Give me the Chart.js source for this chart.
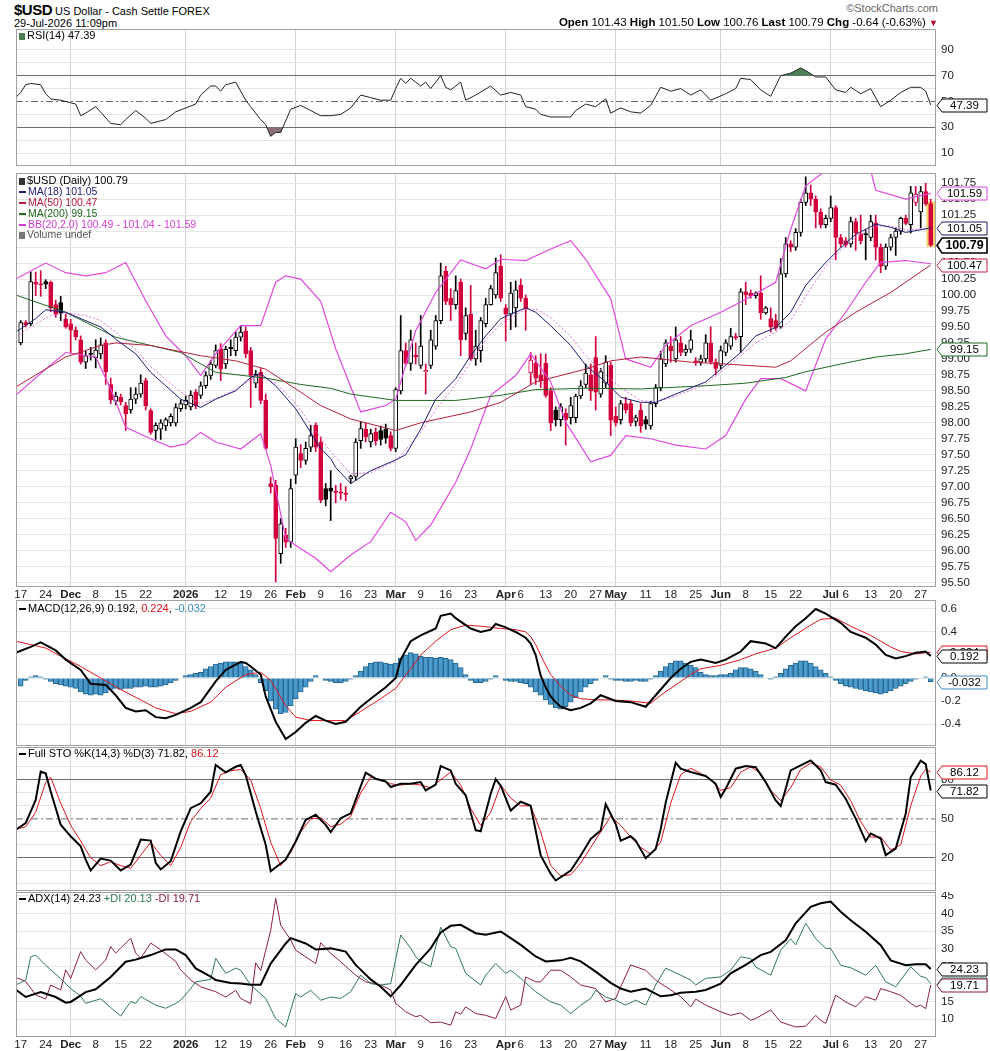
<!DOCTYPE html>
<html>
<head>
<meta charset="utf-8">
<script src="https://cdn.jsdelivr.net/npm/chart.js@4.4.1/dist/chart.umd.min.js"></script>
<style>
body { margin: 0; background: #fff; font-family: 'Liberation Sans', Arial, sans-serif; color: #000; }
#wrap { position: relative; width: 990px; height: 1051px; overflow: hidden; background: #fff; }
canvas { position: absolute; left: 0; }
.t { position: absolute; white-space: nowrap; font-size: 10.5px; line-height: 11px; }
.sw { display: inline-block; width: 7px; height: 2px; margin-right: 2px; vertical-align: middle; }
</style>
</head>
<body>
<div id="wrap">
  <canvas id="cRsi" width="990" height="137" style="top:29px"></canvas>
  <canvas id="cPx" width="990" height="432" style="top:173px"></canvas>
  <canvas id="cMacd" width="990" height="146" style="top:600px"></canvas>
  <canvas id="cSto" width="990" height="144" style="top:747px"></canvas>
  <canvas id="cAdx" width="990" height="159" style="top:892px"></canvas>

  <div class="t" style="left:14px;top:3px;font-size:11px;line-height:14px"><b style="font-size:15px;letter-spacing:-0.5px">$USD</b> US Dollar - Cash Settle FOREX</div>
  <div class="t" style="left:14px;top:17px;font-size:11px;line-height:12px">29-Jul-2026 11:09pm</div>
  <div class="t" style="right:52px;top:2px;font-size:11px;line-height:12px;color:#666">&copy;StockCharts.com</div>
  <div class="t" style="right:52px;top:16px;font-size:11.5px;line-height:13px"><b>Open</b> 101.43 <b>High</b> 101.50 <b>Low</b> 100.76 <b>Last</b> 100.79 <b>Chg</b> -0.64 (-0.63%) <span style="color:#b0002a;font-size:9px">&#9660;</span></div>

  <div class="t" style="left:19px;top:30px;font-size:11px"><span class="sw" style="background:#4d7d55;width:6px;height:7px"></span>RSI(14) 47.39</div>

  <div class="t" style="left:19px;top:175px;font-size:11px"><span class="sw" style="background:#333;width:6px;height:7px"></span>$USD (Daily) 100.79</div>
  <div class="t" style="left:19px;top:186px;color:#1c1c7a"><span class="sw" style="background:#1c1c7a"></span>MA(18) 101.05</div>
  <div class="t" style="left:19px;top:197px;color:#b3203c"><span class="sw" style="background:#b3203c"></span>MA(50) 100.47</div>
  <div class="t" style="left:19px;top:208px;color:#1f6a1f"><span class="sw" style="background:#1f6a1f"></span>MA(200) 99.15</div>
  <div class="t" style="left:19px;top:219px;color:#d63ad6"><span class="sw" style="background:#d63ad6"></span>BB(20,2.0) 100.49 - 101.04 - 101.59</div>
  <div class="t" style="left:19px;top:229px;color:#555"><span class="sw" style="background:#777;width:6px;height:7px"></span>Volume undef</div>

  <div class="t" style="left:19px;top:603px;font-size:11px"><span class="sw" style="background:#000"></span>MACD(12,26,9) 0.192, <span style="color:#e0141e">0.224</span>, <span style="color:#3a8fc0">-0.032</span></div>
  <div class="t" style="left:19px;top:748px;font-size:11px"><span class="sw" style="background:#000"></span>Full STO %K(14,3) %D(3) 71.82, <span style="color:#e0141e">86.12</span></div>
  <div class="t" style="left:19px;top:893px;font-size:11px"><span class="sw" style="background:#000"></span>ADX(14) 24.23 <span style="color:#2d7a4f">+DI 20.13</span> <span style="color:#8c1c4a">-DI 19.71</span></div>
</div>

<script>
// ---- axis labels ----
var tickIdx = [0,5,10,15,20,25,33,40,45,50,55,60,65,70,75,80,85,90,97,100,105,110,115,119,125,130,135,140,145,150,155,162,165,170,175,180];
var tickText = ['17','24','Dec','8','15','22','2026','12','19','26','Feb','9','16','23','Mar','9','16','23','Apr','6','13','20','27','May','11','18','25','Jun','8','15','22','Jul','6','13','20','27'];
var monthIdx = [10,33,55,75,97,119,140,162];

var priceTicks = [95.5,95.75,96,96.25,96.5,96.75,97,97.25,97.5,97.75,98,98.25,98.5,98.75,99,99.25,99.5,99.75,100,100.25,100.5,100.75,101,101.25,101.5,101.75];
var rsiTicks = [10,20,30,40,50,60,70,80,90];
var rsiShown = [10,30,50,70,90];
var macdTicks = [-0.4,-0.2,0,0.2,0.4,0.6];
var stoTicks = [0,10,20,30,40,50,60,70,80,90,100];
var stoShown = [20,50,80];
var adxTicks = [10,15,20,25,30,35,40,45];

// ---- daily candles, Nov 17 2025 .. Jul 29 2026 ----
var openPx = [99.25,99.57,99.55,100.20,100.17,100.21,100.20,99.85,99.88,99.62,
99.55,99.45,99.30,98.95,99.08,99.02,99.08,99.25,98.60,98.34,
98.40,98.27,98.20,98.37,98.45,98.66,98.19,97.88,97.90,97.95,
98.00,98.00,98.22,98.28,98.25,98.48,98.43,98.58,98.74,98.90,
99.16,98.92,99.18,99.13,99.34,99.43,99.13,98.62,98.79,98.35,
97.05,97.02,95.95,96.24,96.13,97.18,97.52,97.41,97.62,97.96,
97.70,96.97,96.98,96.93,96.92,96.90,97.12,97.16,97.72,97.90,
97.70,97.85,97.88,97.90,97.80,97.60,98.50,99.13,98.93,99.06,
98.90,98.80,98.90,99.20,99.60,100.37,99.95,99.85,100.20,99.40,
99.70,99.00,99.13,99.55,99.85,100.00,100.45,99.80,99.70,99.80,
100.15,99.95,98.78,98.93,98.75,98.93,98.50,98.20,98.05,98.15,
98.08,98.08,98.42,98.60,98.75,99.02,98.45,98.62,98.90,98.10,
98.05,98.30,98.30,98.02,98.20,98.05,97.95,98.30,98.55,98.92,
99.20,99.00,99.25,99.10,99.15,98.97,98.95,99.00,99.25,98.95,
98.90,99.10,99.20,99.35,99.35,100.05,100.03,99.99,100.03,99.72,
99.63,99.60,99.50,100.33,100.80,100.75,100.98,101.45,101.60,101.50,
101.30,101.10,101.20,101.37,100.90,100.85,100.80,101.15,100.95,100.96,
100.90,101.13,100.75,100.45,100.75,100.90,101.00,101.20,101.10,101.45,
101.30,101.62,101.43];
var highPx = [99.60,99.60,100.36,100.36,100.38,100.24,100.22,99.92,99.98,99.70,
99.62,99.50,99.36,99.12,99.18,99.30,99.33,99.30,98.70,98.48,
98.45,98.32,98.55,98.55,98.75,98.70,98.22,98.00,98.05,98.08,
98.14,98.30,98.36,98.42,98.50,98.52,98.64,98.80,98.98,99.22,
99.24,99.20,99.30,99.42,99.52,99.50,99.18,98.82,98.85,98.45,
97.15,97.10,96.50,96.35,97.12,97.75,97.66,97.70,97.96,98.00,
97.78,97.05,97.25,97.02,97.05,97.00,97.18,97.75,98.02,98.00,
97.90,97.92,97.95,97.98,97.86,98.55,99.68,99.25,99.45,99.25,
99.68,98.92,99.45,99.68,100.50,100.45,100.10,100.30,100.25,99.80,
100.15,99.45,99.65,99.95,100.15,100.58,100.63,99.85,100.20,100.22,
100.25,100.00,99.10,99.05,99.08,99.08,98.55,98.25,98.30,98.22,
98.40,98.45,98.66,98.92,98.92,99.35,98.85,99.05,98.95,98.25,
98.35,98.40,98.35,98.12,98.30,98.10,98.34,98.60,99.12,99.30,
99.35,99.50,99.35,99.22,99.45,99.02,99.06,99.38,99.50,99.00,
99.20,99.30,99.48,99.40,100.10,100.20,100.08,100.05,100.30,99.82,
99.80,99.70,100.57,100.90,100.85,101.04,101.50,101.85,101.72,101.55,
101.35,101.25,101.55,101.40,100.95,100.90,101.22,101.20,101.25,101.02,
101.25,101.25,100.80,100.80,100.95,101.05,101.22,101.25,101.70,101.70,
101.70,101.75,101.50];
var lowPx = [99.22,99.50,99.52,99.99,99.98,100.10,99.74,99.65,99.60,99.48,
99.10,99.30,98.92,98.85,98.98,98.86,99.00,98.60,98.30,98.28,
98.28,97.88,98.15,98.30,98.40,98.20,97.82,97.74,97.74,97.88,
97.95,97.95,98.18,98.22,98.20,98.22,98.38,98.54,98.68,98.86,
98.66,98.85,99.05,99.05,99.28,99.02,98.24,98.55,98.30,97.58,
96.90,95.51,95.80,96.05,96.05,97.05,97.30,97.35,97.55,97.55,
96.75,96.70,96.47,96.75,96.80,96.78,97.05,97.10,97.60,97.70,
97.62,97.65,97.65,97.68,97.56,97.55,98.45,98.90,98.82,98.92,
98.85,98.45,98.85,99.15,99.55,99.85,99.60,99.78,99.05,99.30,
98.98,98.90,98.95,99.50,99.84,99.95,99.90,99.28,99.46,99.50,
99.90,99.45,98.60,98.60,98.55,98.40,97.88,97.95,97.95,97.65,
97.98,98.00,98.38,98.55,98.35,98.20,98.40,98.55,97.80,97.95,
97.98,98.15,97.95,97.95,97.85,97.90,97.90,98.25,98.50,98.88,
98.95,98.95,99.05,99.05,99.10,98.90,98.90,98.95,98.92,98.75,
98.85,99.05,99.15,99.30,99.10,99.85,99.95,99.95,99.62,99.70,
99.42,99.45,99.48,100.28,100.68,100.70,100.92,101.40,101.40,101.05,
101.05,101.05,101.15,100.55,100.75,100.75,100.75,100.70,100.80,100.55,
100.85,100.55,100.35,100.40,100.70,100.62,100.95,101.10,100.97,101.40,
101.05,101.40,100.76];
var closePx = [99.57,99.53,100.21,100.17,100.16,100.17,99.80,99.70,99.72,99.50,
99.45,99.35,98.95,99.05,99.07,99.14,99.22,98.80,98.36,98.42,
98.33,98.14,98.37,98.45,98.62,98.27,97.85,97.96,98.00,98.05,
98.10,98.24,98.30,98.35,98.43,98.27,98.58,98.74,98.92,99.13,
98.84,99.15,99.16,99.34,99.42,99.08,98.74,98.76,98.35,97.60,
97.00,96.19,96.42,96.13,96.97,97.62,97.41,97.60,97.80,97.62,
96.79,96.80,96.93,96.91,96.90,96.88,97.16,97.70,97.91,97.78,
97.83,97.72,97.74,97.76,97.60,98.52,99.13,98.93,99.30,99.03,
99.20,98.82,99.30,99.60,100.30,99.90,99.85,100.07,99.30,99.68,
99.00,99.20,99.60,99.85,100.10,100.35,99.95,99.70,100.03,100.08,
99.95,99.78,98.98,98.70,98.65,98.43,98.00,98.05,98.25,98.05,
98.27,98.42,98.58,98.78,98.50,98.48,98.80,98.95,98.04,98.00,
98.30,98.20,98.00,98.08,97.95,97.98,98.30,98.55,99.00,99.25,
99.13,99.30,99.10,99.15,99.30,98.95,99.00,99.25,98.95,98.85,
99.13,99.25,99.35,99.33,100.05,100.00,99.99,100.03,99.72,99.80,
99.50,99.48,100.33,100.80,100.75,100.98,101.45,101.60,101.50,101.30,
101.10,101.20,101.37,100.90,100.80,100.78,101.15,100.97,100.85,100.94,
101.15,100.75,100.45,100.75,100.90,101.00,101.20,101.12,101.60,101.58,
101.62,101.43,100.79];

// ---- overlays, [day index, value] ----
var ma18 = [[-1,99.42],[3,99.63],[5,99.77],[9,99.73],[16,99.5],[19,99.31],[23,99.08],[26,98.79],[29,98.58],[32,98.37],[36,98.24],[39,98.37],[43,98.5],[46,98.71],[48,98.77],[51,98.58],[55,98.22],[58,97.85],[60,97.6],[62,97.44],[63,97.3],[66,97.05],[70,97.25],[75,97.42],[77,97.5],[80,97.9],[83,98.37],[87,98.69],[90,99.05],[93,99.36],[96,99.63],[101,99.8],[103,99.73],[106,99.52],[110,99.21],[113,98.9],[117,98.64],[120,98.4],[124,98.32],[127,98.32],[131,98.45],[137,98.64],[144,99.1],[147,99.36],[151,99.49],[154,99.73],[157,100.15],[161,100.51],[164,100.74],[167,100.95],[171,101.11],[174,101.06],[177,100.98],[182,101.05]];
var ma50 = [[-1,98.56],[9,99.03],[16,99.21],[19,99.25],[26,99.21],[36,99.05],[43,98.97],[49,98.84],[56,98.48],[60,98.27],[66,98.06],[75,97.88],[80,98.0],[90,98.17],[96,98.32],[103,98.64],[113,98.84],[118,98.97],[124,99.03],[134,98.95],[141,98.92],[151,98.87],[154,98.97],[161,99.42],[167,99.73],[174,100.04],[182,100.47]];
var ma200 = [[-1,100.0],[9,99.73],[19,99.34],[32,99.1],[39,98.79],[49,98.7],[56,98.6],[62,98.54],[66,98.45],[75,98.35],[87,98.35],[96,98.43],[103,98.52],[113,98.54],[124,98.53],[137,98.58],[145,98.62],[153,98.71],[157,98.8],[164,98.92],[171,99.03],[177,99.08],[182,99.15]];
var bbUpper = [[-1,100.25],[5,100.5],[9,100.35],[13,100.3],[17,100.35],[21,100.51],[25,99.91],[29,99.36],[33,99.05],[36,98.74],[39,99.08],[44,99.52],[48,99.52],[51,100.2],[53,100.3],[56,100.25],[60,99.9],[63,99.16],[68,98.17],[73,98.27],[75,98.37],[79,99.44],[83,100.04],[88,100.55],[93,100.41],[96,100.56],[101,100.54],[106,100.72],[110,100.85],[113,100.56],[118,99.94],[121,99.0],[126,98.87],[129,99.21],[134,99.52],[140,99.73],[144,99.89],[151,100.2],[154,101.03],[157,101.71],[161,101.95],[170,101.95],[171,101.64],[177,101.5],[182,101.59]];
var bbMid = [[-1,99.35],[3,99.55],[6,99.68],[9,99.72],[13,99.68],[16,99.6],[19,99.42],[23,99.15],[26,98.88],[29,98.68],[32,98.48],[36,98.3],[39,98.38],[43,98.52],[46,98.68],[48,98.73],[51,98.62],[55,98.3],[58,97.98],[62,97.55],[66,97.2],[70,97.22],[75,97.4],[80,97.85],[83,98.2],[87,98.6],[90,98.95],[93,99.3],[96,99.55],[101,99.78],[103,99.78],[106,99.65],[110,99.35],[113,99.05],[117,98.75],[120,98.55],[124,98.35],[127,98.32],[131,98.42],[137,98.6],[144,99.05],[147,99.25],[151,99.42],[154,99.6],[157,99.98],[161,100.45],[164,100.7],[167,100.9],[171,101.08],[174,101.08],[177,101.02],[182,101.04]];
var bbLower = [[-1,98.43],[5,98.84],[9,99.1],[15,99.03],[18,98.53],[21,97.93],[26,97.75],[30,97.62],[33,97.67],[36,97.85],[39,97.7],[44,97.59],[48,97.83],[50,97.33],[53,96.19],[56,96.03],[59,95.88],[62,95.67],[66,95.93],[70,96.14],[74,96.6],[77,96.45],[79,96.16],[82,96.4],[87,97.07],[90,97.59],[94,98.43],[99,98.74],[102,99.08],[106,98.64],[109,98.01],[114,97.39],[118,97.49],[121,97.8],[126,97.75],[131,97.65],[137,97.59],[141,97.8],[145,98.37],[148,98.69],[152,98.69],[157,98.5],[161,99.31],[165,99.73],[169,100.2],[172,100.51],[177,100.54],[182,100.49]];

// ---- indicators ----
var rsiPts = [[-1,53],[0,57],[1,63],[2,64],[4,63],[5,56],[6,52],[8,51],[10,49],[11,48],[12,39],[13,41],[15,46],[18,33],[20,32],[21,36],[23,43],[25,37],[26,33],[29,36],[31,42],[33,45],[35,48],[36,55],[38,62],[39,62],[40,58],[41,63],[43,65],[45,51],[46,46],[48,36],[49,32],[50,23],[51,26],[52,26],[54,44],[56,47],[58,43],[60,39],[62,39],[64,40],[66,45],[68,55],[70,53],[72,51],[74,51],[75,60],[76,68],[77,64],[78,68],[80,62],[81,65],[82,60],[84,70],[85,61],[86,59],[88,65],[89,51],[91,55],[94,62],[96,55],[98,57],[100,55],[101,46],[103,44],[104,40],[106,38],[108,38],[110,38],[111,43],[113,48],[115,46],[117,52],[118,41],[120,45],[122,42],[124,41],[126,47],[128,61],[130,58],[132,60],[134,55],[136,59],[138,51],[141,56],[143,60],[144,68],[146,67],[148,59],[150,54],[152,70],[154,72],[156,76],[157,74],[159,69],[161,69],[163,59],[165,57],[166,61],[168,56],[170,60],[172,46],[174,51],[176,57],[178,61],[180,61],[181,58],[182,47.39]];

var macdPts = [[-1,0.22],[2,0.27],[4,0.31],[7,0.24],[9,0.16],[12,0.07],[14,-0.05],[17,-0.06],[19,-0.15],[21,-0.26],[23,-0.29],[25,-0.28],[27,-0.34],[29,-0.35],[31,-0.32],[34,-0.26],[36,-0.21],[39,-0.03],[41,0.07],[44,0.14],[45,0.13],[46,0.10],[48,0.03],[49,-0.16],[51,-0.38],[53,-0.53],[55,-0.47],[57,-0.39],[59,-0.33],[61,-0.37],[63,-0.40],[65,-0.38],[68,-0.25],[70,-0.18],[73,-0.08],[75,0.0],[76,0.16],[78,0.32],[80,0.37],[83,0.43],[84,0.54],[86,0.56],[87,0.52],[90,0.43],[92,0.40],[94,0.42],[95,0.47],[97,0.44],[99,0.40],[101,0.35],[102,0.30],[103,0.20],[104,0.02],[105,-0.08],[106,-0.16],[107,-0.21],[108,-0.25],[110,-0.28],[112,-0.26],[114,-0.22],[116,-0.15],[119,-0.20],[122,-0.21],[125,-0.25],[127,-0.15],[130,0.0],[132,0.08],[134,0.14],[136,0.16],[139,0.13],[141,0.16],[144,0.23],[146,0.32],[149,0.30],[151,0.26],[153,0.36],[155,0.45],[157,0.52],[159,0.60],[161,0.56],[164,0.48],[166,0.40],[169,0.35],[171,0.29],[173,0.20],[175,0.17],[177,0.19],[179,0.22],[181,0.23],[182,0.192]];
var signalPts = [[-1,0.32],[2,0.29],[5,0.26],[8,0.19],[12,0.10],[16,0.0],[20,-0.10],[24,-0.19],[27,-0.26],[31,-0.31],[34,-0.29],[38,-0.21],[41,-0.08],[45,0.03],[48,0.05],[50,-0.02],[53,-0.24],[55,-0.34],[58,-0.37],[62,-0.37],[65,-0.37],[68,-0.29],[72,-0.18],[75,-0.09],[78,0.08],[80,0.20],[83,0.32],[86,0.42],[89,0.46],[92,0.45],[96,0.43],[99,0.42],[101,0.40],[102,0.36],[103,0.29],[104,0.20],[105,0.11],[106,0.03],[108,-0.07],[110,-0.15],[112,-0.18],[115,-0.19],[118,-0.19],[122,-0.20],[126,-0.22],[128,-0.15],[131,-0.06],[134,0.03],[136,0.08],[140,0.11],[144,0.16],[147,0.21],[151,0.26],[154,0.35],[158,0.46],[160,0.51],[163,0.52],[166,0.45],[170,0.37],[174,0.27],[176,0.23],[179,0.21],[182,0.224]];
var macdHist = [-0.07,-0.02,0.01,0.02,0.01,-0.01,-0.03,-0.05,-0.06,-0.07,
-0.08,-0.09,-0.12,-0.14,-0.15,-0.14,-0.15,-0.13,-0.10,-0.09,
-0.10,-0.09,-0.09,-0.08,-0.08,-0.07,-0.08,-0.08,-0.07,-0.06,
-0.04,-0.02,0.00,0.02,0.03,0.04,0.05,0.08,0.10,0.12,
0.13,0.14,0.14,0.14,0.13,0.10,0.07,0.03,-0.04,-0.11,
-0.20,-0.27,-0.31,-0.30,-0.24,-0.18,-0.12,-0.08,-0.03,0.02,
0.00,-0.02,-0.03,-0.04,-0.04,-0.03,-0.01,0.02,0.06,0.10,
0.13,0.14,0.14,0.13,0.12,0.13,0.17,0.20,0.22,0.21,
0.19,0.18,0.18,0.17,0.18,0.17,0.16,0.13,0.09,0.03,
-0.02,-0.04,-0.04,-0.03,-0.01,0.02,0.00,-0.02,-0.03,-0.03,
-0.04,-0.05,-0.08,-0.12,-0.15,-0.19,-0.23,-0.26,-0.27,-0.25,
-0.21,-0.17,-0.12,-0.08,-0.05,-0.02,0.00,0.02,-0.01,-0.02,
-0.02,-0.03,-0.03,-0.02,-0.03,-0.03,-0.01,0.02,0.06,0.10,
0.13,0.15,0.15,0.13,0.11,0.09,0.05,0.03,0.02,0.02,
0.03,0.03,0.04,0.07,0.09,0.09,0.08,0.06,0.03,0.00,
-0.01,0.01,0.04,0.08,0.11,0.13,0.15,0.15,0.13,0.10,
0.07,0.04,0.01,-0.02,-0.05,-0.07,-0.08,-0.09,-0.10,-0.11,
-0.12,-0.13,-0.14,-0.13,-0.11,-0.09,-0.07,-0.05,-0.03,-0.01,
0.00,0.01,-0.032];

var stoK = [[-1,41.6],[1,46.7],[3,64.6],[4,86.3],[5,85],[6,71],[8,45.5],[10,36.6],[12,28.9],[13,18.7],[14,10.3],[16,19.5],[18,17.9],[20,10.3],[22,14.9],[24,34.1],[26,33.3],[27,16.2],[28,11.1],[30,17.4],[32,40.3],[34,58.2],[36,62],[38,70.9],[39,91.4],[41,85.8],[43,90.1],[44,91.4],[45,83.7],[47,55.7],[49,30.1],[50,9.7],[53,18.6],[55,32.6],[57,49.2],[59,53.1],[61,45.4],[62,39.8],[64,50.5],[66,54.3],[67,64.6],[69,85.5],[71,80.9],[73,78.8],[74,74.5],[76,77],[78,77],[80,78.3],[81,71.9],[83,76.3],[84,90.6],[86,87.3],[87,77],[89,68.1],[91,41.3],[92,40.5],[94,69.3],[95,80.6],[96,75.5],[98,56.4],[100,63.2],[102,60.1],[104,21.8],[106,7.8],[107,2.6],[110,10.3],[112,21.8],[114,34.6],[116,41],[117,61.4],[119,46.1],[120,33.3],[122,36.6],[123,33.3],[125,19.7],[127,26.9],[128,42.1],[129,62.5],[131,93.2],[132,88.6],[134,86.1],[137,83],[139,77],[140,66.9],[141,73.2],[143,88.6],[145,90.6],[147,89.8],[149,78.3],[151,64.2],[152,59.9],[153,73.2],[154,87.3],[156,91.1],[158,95],[160,87.3],[161,78.3],[163,76.3],[165,65.5],[167,50.2],[169,32.9],[170,38.8],[172,34.9],[173,22.1],[175,27.2],[177,54],[178,82],[180,94.7],[181,92.1],[182,71.82]];
var stoD = [[-1,42],[1,44],[3,55],[5,78],[6,82],[8,62],[10,45],[12,33],[14,20],[16,14],[18,17],[20,14],[22,12],[24,22],[26,32],[28,22],[30,14],[32,28],[34,48],[36,58],[38,66],[40,84],[42,87],[44,88],[46,80],[48,58],[50,32],[52,14],[54,24],[56,40],[58,50],[60,51],[62,44],[64,46],[66,52],[68,70],[70,82],[72,80],[74,77],[76,76],[78,77],[80,76],[82,74],[84,80],[86,86],[88,76],[90,58],[92,45],[94,55],[96,76],[98,66],[100,60],[102,60],[104,40],[106,14],[108,6],[110,7],[112,16],[114,28],[116,40],[118,52],[120,45],[122,36],[124,28],[126,23],[128,32],[130,62],[132,84],[134,89],[136,85],[138,80],[140,72],[142,74],[144,86],[146,90],[148,85],[150,72],[152,64],[154,74],[156,88],[158,93],[160,90],[162,80],[164,76],[166,64],[168,48],[170,36],[172,36],[174,26],[176,30],[178,60],[180,83],[181,88],[182,86.12]];

var adxPts = [[-1,18.4],[1,16.3],[4,17.7],[7,16.3],[9,14.7],[10,14.9],[13,17.7],[15,18.5],[18,22.0],[21,26.3],[23,26.9],[26,28.2],[29,29.8],[31,29.8],[33,28.2],[35,24.4],[38,22.1],[39,21.1],[42,20.3],[44,20.1],[46,19.8],[48,19.8],[50,25.8],[53,31.5],[54,33.0],[57,31.5],[59,29.8],[62,30.1],[65,29.2],[67,25.4],[70,21.3],[72,19.2],[74,16.5],[76,19.7],[79,25.4],[82,30.1],[84,34.6],[86,36.5],[88,36.8],[91,34.4],[93,34.0],[96,34.9],[98,33.0],[100,31.1],[103,27.8],[105,26.4],[108,26.7],[110,27.4],[112,26.4],[115,23.5],[118,20.3],[120,18.7],[122,17.8],[125,18.7],[128,16.5],[130,16.8],[132,17.5],[135,17.8],[137,18.3],[140,20.1],[142,23.0],[145,25.4],[148,28.2],[150,29.1],[153,32.4],[155,37.2],[158,41.9],[160,42.9],[162,43.4],[164,40.5],[166,38.1],[169,34.8],[172,31.0],[174,26.7],[177,25.3],[179,25.6],[181,25.6],[182,24.23]];
var plusDI = [[-1,19.7],[1,21.1],[2,27.7],[3,28.2],[5,25.3],[8,21.5],[10,18.7],[12,16.5],[13,14.5],[16,15.8],[18,13.3],[20,10.9],[22,15.0],[23,14.5],[24,16.4],[27,14.0],[29,13.1],[31,14.5],[32,15.4],[34,18.7],[35,20.6],[38,21.3],[39,27.3],[41,23.0],[43,24.5],[44,23.9],[46,19.7],[49,15.9],[51,10.2],[53,7.8],[55,17.3],[56,16.3],[58,18.2],[59,16.8],[60,15.4],[62,16.3],[64,15.9],[66,17.8],[68,22.5],[70,20.1],[72,19.7],[74,20.1],[76,33.9],[78,30.1],[79,27.8],[80,26.3],[82,24.9],[84,36.1],[86,30.6],[87,30.1],[89,23.0],[92,19.7],[93,22.5],[95,25.8],[97,23.0],[98,23.9],[100,21.6],[103,17.8],[106,14.9],[108,14.0],[110,11.6],[112,14.0],[114,15.9],[115,18.2],[117,16.3],[119,15.4],[121,14.0],[123,15.4],[125,14.0],[127,19.7],[129,24.5],[132,22.5],[134,21.1],[135,19.7],[137,21.6],[140,22.0],[142,23.9],[144,27.7],[146,27.2],[147,24.8],[150,22.5],[152,29.6],[154,32.8],[155,31.1],[157,37.2],[159,32.9],[161,30.1],[162,30.1],[164,25.3],[166,24.6],[169,22.5],[171,25.3],[173,20.6],[175,19.2],[176,21.1],[178,24.9],[180,22.2],[181,21.8],[182,20.13]];
var minusDI = [[-1,21.9],[1,20.7],[3,16.9],[5,15.7],[6,19.7],[8,18.3],[9,24.0],[10,21.6],[12,29.2],[13,26.8],[15,24.0],[17,26.8],[18,30.6],[19,28.8],[20,30.2],[22,33.0],[23,28.8],[24,27.3],[26,31.6],[28,29.7],[31,26.4],[32,24.0],[34,21.1],[36,19.2],[39,17.8],[41,16.3],[43,18.2],[44,15.9],[46,14.4],[47,26.0],[48,23.8],[49,29.5],[50,35.2],[51,44.3],[52,36.7],[54,32.5],[55,29.6],[57,27.7],[59,25.8],[60,31.7],[62,28.7],[64,26.3],[67,22.5],[69,20.6],[72,19.7],[74,18.3],[75,14.5],[77,12.1],[79,10.7],[80,11.1],[82,9.0],[84,9.2],[86,8.3],[87,12.1],[88,11.4],[89,13.5],[91,11.6],[93,11.1],[95,10.2],[97,16.4],[98,12.6],[100,14.0],[101,22.0],[103,20.6],[104,20.6],[106,23.9],[108,23.9],[110,22.0],[112,19.7],[115,18.7],[116,16.8],[117,14.9],[119,15.9],[120,19.2],[122,25.4],[125,23.9],[127,21.1],[130,18.3],[132,16.4],[134,13.5],[135,15.7],[137,14.0],[140,12.1],[142,11.1],[144,11.8],[146,9.7],[147,10.2],[150,12.6],[152,9.2],[155,7.8],[157,8.0],[159,11.1],[160,9.7],[161,8.8],[163,16.8],[165,14.9],[167,13.5],[169,16.4],[171,15.4],[172,18.7],[174,17.8],[176,16.8],[178,14.5],[179,13.5],[180,14.0],[181,13.0],[182,19.71]];

// ---- shared setup ----
var X_MIN = -0.94, X_MAX = 183.06;
var FONT = "'Liberation Sans', Arial, sans-serif";
var RED = '#d3003c';
var CLEAR = 'rgba(0,0,0,0)';

function pts(list) {
	return list.map(function(p) { return {x: p[0], y: p[1]}; });
}

function last(list) {
	return list[list.length - 1][1];
}

function lineSet(list, color, width, extra) {
	var ds = {
		type: 'line', data: pts(list), borderColor: color, borderWidth: width,
		pointRadius: 0, tension: 0, fill: false, order: 0
	};
	for (var k in extra) ds[k] = extra[k];
	return ds;
}

function refLine(v, dash) {
	return {
		type: 'line', data: [{x: X_MIN, y: v}, {x: X_MAX, y: v}], borderColor: '#6c6c6c',
		borderWidth: 1, borderDash: dash, pointRadius: 0, fill: false, order: 9
	};
}

function isMonth(v) {
	return monthIdx.indexOf(v) >= 0;
}

function xScale(showLabels, h) {
	return {
		type: 'linear', min: X_MIN, max: X_MAX, offset: false,
		afterBuildTicks: function(s) {
			s.ticks = tickIdx.map(function(v) { return {value: v}; });
		},
		afterFit: function(s) {
			s.height = h;
			s.paddingLeft = 0;
			s.paddingRight = 0;
		},
		grid: {
			offset: false, drawTicks: false,
			color: function(c) { return c.tick && isMonth(c.tick.value) ? '#d2d2d2' : CLEAR; }
		},
		border: {display: false},
		ticks: {
			display: showLabels, autoSkip: false, maxRotation: 0, padding: 1, color: '#222',
			font: function(c) {
				var bold = c.tick && isMonth(c.tick.value);
				return {family: FONT, size: 11.5, weight: bold ? 'bold' : 'normal'};
			},
			callback: function(v) {
				var k = tickIdx.indexOf(v);
				return k >= 0 ? tickText[k] : '';
			}
		}
	};
}

function yScale(min, max, ticks, label, gridColor) {
	return {
		position: 'right', min: min, max: max,
		afterBuildTicks: function(s) {
			s.ticks = ticks.map(function(v) { return {value: v}; });
		},
		afterFit: function(s) {
			s.width = 54;
			s.paddingTop = 0;
			s.paddingBottom = 0;
		},
		grid: {drawTicks: false, color: gridColor || '#e6e6e6'},
		border: {display: false},
		ticks: {autoSkip: false, padding: 5, color: '#222', font: {family: FONT, size: 11.5}, callback: label}
	};
}

var framePlugin = {
	id: 'frame',
	afterDraw: function(chart) {
		var a = chart.chartArea, ctx = chart.ctx;
		ctx.save();
		ctx.strokeStyle = '#a0a0a0';
		ctx.lineWidth = 1;
		ctx.strokeRect(a.left + 0.5, a.top + 0.5, a.right - a.left - 1, a.bottom - a.top - 1);
		ctx.restore();
	}
};

// value tags on the right axis, pointing at the last value
function boxPlugin(items) {
	return {
		id: 'valueBoxes',
		afterDraw: function(chart) {
			var ctx = chart.ctx, ys = chart.scales.y, x0 = chart.chartArea.right + 1;
			ctx.save();
			items.forEach(function(b) {
				var y = Math.round(ys.getPixelForValue(b.value)) + 0.5;
				var w = 45, h = b.bold ? 15 : 13, xl = x0 + 5;
				ctx.beginPath();
				ctx.moveTo(x0, y);
				ctx.lineTo(xl, y - h / 2);
				ctx.lineTo(xl + w, y - h / 2);
				ctx.lineTo(xl + w, y + h / 2);
				ctx.lineTo(xl, y + h / 2);
				ctx.closePath();
				ctx.fillStyle = '#fff';
				ctx.fill();
				ctx.strokeStyle = b.color;
				ctx.lineWidth = b.bold ? 1.6 : 1;
				ctx.stroke();
				ctx.fillStyle = '#000';
				ctx.font = (b.bold ? 'bold 12.5px ' : '11.5px ') + FONT;
				ctx.textAlign = 'center';
				ctx.textBaseline = 'middle';
				ctx.fillText(b.text, xl + w / 2, y + 0.5);
			});
			ctx.restore();
		}
	};
}

function baseOptions(xs, ys) {
	return {
		responsive: false, animation: false, events: [],
		layout: {padding: {left: 16, right: 0, top: 0, bottom: 0}},
		plugins: {legend: {display: false}, tooltip: {enabled: false}},
		scales: {x: xs, y: ys}
	};
}

// ---- RSI ----
var rsiGrid = function(c) {
	var v = c.tick ? c.tick.value : 0;
	if (v === 70 || v === 30) return '#6c6c6c';
	if (v === 50) return CLEAR;
	return '#e4e4e4';
};
new Chart(document.getElementById('cRsi'), {
	type: 'line',
	data: {datasets: [
		lineSet(rsiPts, '#222', 1, {fill: {target: {value: 70}, above: '#4f7f57', below: CLEAR}}),
		lineSet(rsiPts, CLEAR, 0, {order: 1, fill: {target: {value: 30}, above: CLEAR, below: '#8c6e77'}}),
		refLine(50, [7, 3, 2, 3])
	]},
	options: baseOptions(xScale(false, 0), yScale(0, 106.2, rsiTicks,
		function(v) { return rsiShown.indexOf(v) >= 0 ? String(v) : ''; }, rsiGrid)),
	plugins: [framePlugin, boxPlugin([{value: last(rsiPts), text: last(rsiPts).toFixed(2), color: '#000'}])]
});

// ---- price ----
var bodyFill = [], bodyLine = [];
for (var i = 0; i < closePx.length; i++) {
	var prev = i > 0 ? closePx[i - 1] : openPx[i];
	var col = closePx[i] < prev ? RED : '#000';
	bodyLine.push(col);
	bodyFill.push(closePx[i] >= openPx[i] ? '#fff' : col);
}
var lastI = closePx.length - 1;

new Chart(document.getElementById('cPx'), {
	type: 'bar',
	data: {datasets: [
		lineSet(ma18, '#1c1c7a', 1),
		lineSet(ma50, '#b3203c', 1),
		lineSet(ma200, '#1f6a1f', 1),
		lineSet(bbUpper, '#e048e0', 1.2),
		lineSet(bbLower, '#e048e0', 1.2),
		lineSet(bbMid, '#e070e0', 1, {borderDash: [2, 2]}),
		{
			type: 'bar', order: 2, grouped: false, barThickness: 4, minBarLength: 1,
			borderSkipped: false, borderWidth: 1,
			data: openPx.map(function(o, k) { return {x: k, y: [o, closePx[k]]}; }),
			backgroundColor: bodyFill, borderColor: bodyLine
		},
		{
			type: 'bar', order: 3, grouped: false, barThickness: 1,
			data: lowPx.map(function(l, k) { return {x: k, y: [l, highPx[k]]}; }),
			backgroundColor: bodyLine
		},
		{
			type: 'bar', order: 4, grouped: false, barThickness: 8,
			data: [{x: lastI, y: [closePx[lastI] - 0.03, openPx[lastI] + 0.03]}],
			backgroundColor: '#f7d36a'
		}
	]},
	options: baseOptions(xScale(true, 18), yScale(95.43, 101.91, priceTicks,
		function(v) { return v.toFixed(2); })),
	plugins: [framePlugin, boxPlugin([
		{value: last(bbUpper), text: last(bbUpper).toFixed(2), color: '#e048e0'},
		{value: last(ma18), text: last(ma18).toFixed(2), color: '#1c1c7a'},
		{value: last(ma50), text: last(ma50).toFixed(2), color: '#c0203c'},
		{value: last(ma200), text: last(ma200).toFixed(2), color: '#1f6a1f'},
		{value: closePx[lastI], text: closePx[lastI].toFixed(2), color: '#000', bold: true}
	])]
});

// ---- MACD ----
new Chart(document.getElementById('cMacd'), {
	type: 'bar',
	data: {datasets: [
		lineSet(macdPts, '#000', 2),
		lineSet(signalPts, '#e0141e', 1, {order: 1}),
		{
			type: 'bar', order: 3, grouped: false, barThickness: 5, borderWidth: 1,
			data: macdHist.map(function(v, k) { return {x: k, y: v}; }),
			backgroundColor: '#4a9bcb', borderColor: '#24648e'
		}
	]},
	options: baseOptions(xScale(false, 0), yScale(-0.591, 0.678, macdTicks,
		function(v) { return v === 0 ? '0.0' : String(v); })),
	plugins: [framePlugin, boxPlugin([
		{value: last(signalPts), text: last(signalPts).toFixed(3), color: '#e0141e'},
		{value: last(macdPts), text: last(macdPts).toFixed(3), color: '#000'},
		{value: macdHist[lastI], text: macdHist[lastI].toFixed(3), color: '#3a8fc0'}
	])]
});

// ---- Full stochastics ----
var stoGrid = function(c) {
	var v = c.tick ? c.tick.value : 0;
	if (v === 80 || v === 20) return '#6c6c6c';
	if (v === 50) return CLEAR;
	return '#e4e4e4';
};
new Chart(document.getElementById('cSto'), {
	type: 'line',
	data: {datasets: [
		lineSet(stoK, '#000', 2),
		lineSet(stoD, '#e0141e', 1, {order: 1}),
		refLine(50, [7, 3, 2, 3])
	]},
	options: baseOptions(xScale(false, 0), yScale(-5.5, 105.3, stoTicks,
		function(v) { return stoShown.indexOf(v) >= 0 ? String(v) : ''; }, stoGrid)),
	plugins: [framePlugin, boxPlugin([
		{value: last(stoD), text: last(stoD).toFixed(2), color: '#e0141e'},
		{value: last(stoK), text: last(stoK).toFixed(2), color: '#000'}
	])]
});

// ---- ADX ----
new Chart(document.getElementById('cAdx'), {
	type: 'line',
	data: {datasets: [
		lineSet(adxPts, '#000', 2),
		lineSet(plusDI, '#2d7a4f', 1, {order: 1}),
		lineSet(minusDI, '#8c1c4a', 1, {order: 1})
	]},
	options: baseOptions(xScale(true, 14), yScale(4.95, 46.1, adxTicks,
		function(v) { return String(v); })),
	plugins: [framePlugin, boxPlugin([
		{value: last(adxPts), text: last(adxPts).toFixed(2), color: '#000'},
		{value: last(plusDI), text: last(plusDI).toFixed(2), color: '#2d7a4f'},
		{value: last(minusDI), text: last(minusDI).toFixed(2), color: '#8c1c4a'}
	])]
});
</script>
</body>
</html>
